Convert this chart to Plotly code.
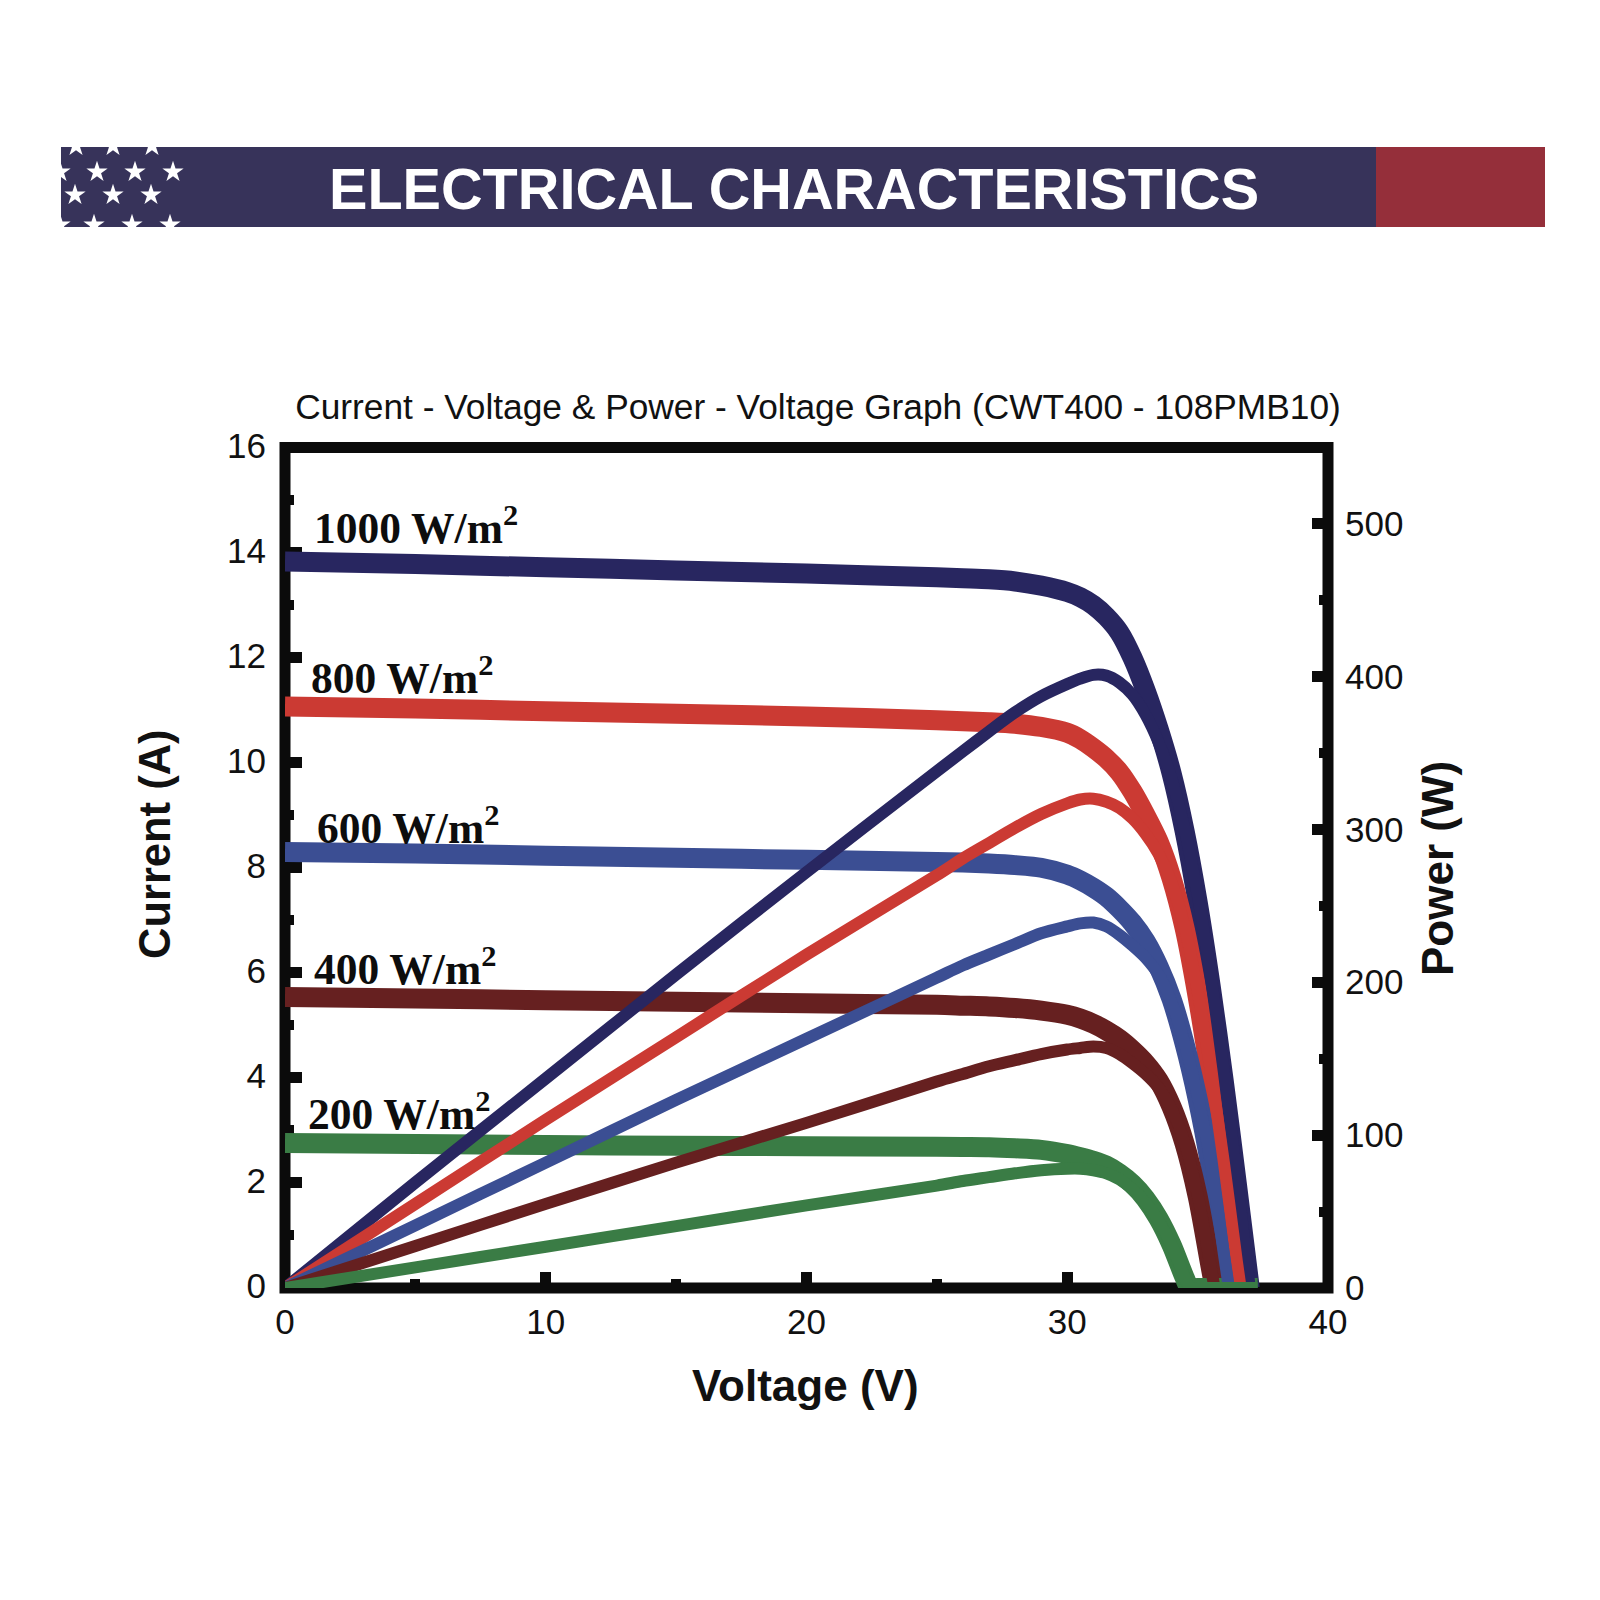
import plotly.graph_objects as go

# Shared canvas size in pixels
W = H = 1600

# Irradiance labels, one per module curve
labels = ["1000 W/m<sup>2</sup>", "800 W/m<sup>2</sup>", "600 W/m<sup>2</sup>", "400 W/m<sup>2</sup>", "200 W/m<sup>2</sup>"]
colors = ["#282660", "#CB3A33", "#3B4E93", "#662020", "#3A7C45"]

# Voltage (V), current (A) and power (W) for each irradiance level
v_1000 = [0, 5, 10, 15, 20, 25, 26, 27, 28, 29, 30, 30.5, 31, 31.5, 32, 32.5, 33, 33.5, 34, 34.5, 35, 35.5, 36, 36.5, 37]
i_1000 = [13.83, 13.78, 13.72, 13.66, 13.6, 13.53, 13.51, 13.49, 13.45, 13.37, 13.25, 13.15, 13.0, 12.78, 12.48, 12.0, 11.38, 10.65, 9.8, 8.7, 7.35, 5.75, 3.95, 2.0, 0]
p_1000 = [0, 69, 137, 205, 272, 338, 351, 364, 376.5, 387, 395, 398.5, 401, 400.5, 396, 388, 375, 357, 333, 300, 257, 204, 142, 73, 0]

v_800 = [0, 5, 10, 15, 20, 25, 26, 27, 28, 29, 30, 30.5, 31, 31.5, 32, 32.5, 33, 33.5, 34, 34.5, 35, 35.5, 36, 36.5, 36.65]
i_800 = [11.07, 11.03, 10.98, 10.93, 10.88, 10.81, 10.79, 10.77, 10.74, 10.68, 10.57, 10.45, 10.28, 10.08, 9.82, 9.45, 9.0, 8.5, 7.8, 6.85, 5.55, 4.0, 2.3, 0.5, 0]
p_800 = [0, 55, 110, 164, 218, 270, 281, 291, 301, 310, 317, 319.5, 320, 318, 314, 307, 297, 284, 265, 236, 194, 142, 83, 18, 0]

v_600 = [0, 5, 10, 15, 20, 25, 26, 27, 28, 29, 30, 30.5, 31, 31.5, 32, 32.5, 33, 33.5, 34, 34.5, 35, 35.5, 36, 36.2]
i_600 = [8.3, 8.27, 8.23, 8.19, 8.15, 8.11, 8.1, 8.08, 8.05, 8.0, 7.87, 7.76, 7.62, 7.45, 7.22, 6.95, 6.6, 6.12, 5.5, 4.65, 3.6, 2.3, 0.65, 0]
p_600 = [0, 41, 82, 123, 163, 203, 211, 218, 225, 232, 236.5, 238.5, 239, 236.5, 231, 224, 216, 205, 187, 160, 126, 82, 23, 0]

v_400 = [0, 5, 10, 15, 20, 25, 26, 27, 28, 29, 30, 30.5, 31, 31.5, 32, 32.5, 33, 33.5, 34, 34.5, 35, 35.5, 35.65]
i_400 = [5.54, 5.51, 5.48, 5.45, 5.42, 5.39, 5.375, 5.36, 5.33, 5.28, 5.2, 5.13, 5.03, 4.9, 4.74, 4.53, 4.28, 3.95, 3.45, 2.75, 1.75, 0.4, 0]
p_400 = [0, 27.5, 55, 82, 108, 135, 140, 145, 149, 153, 156, 157, 158, 157, 153, 147, 140, 131, 117, 95, 61, 14, 0]

v_200 = [0, 5, 10, 15, 20, 25, 26, 27, 28, 29, 30, 30.5, 31, 31.5, 32, 32.5, 33, 33.5, 34, 34.5, 34.7, 35, 37.3]
i_200 = [2.76, 2.74, 2.72, 2.71, 2.7, 2.69, 2.685, 2.68, 2.66, 2.63, 2.55, 2.49, 2.42, 2.33, 2.18, 1.98, 1.7, 1.32, 0.82, 0.2, 0, 0, 0]
p_200 = [0, 13.5, 27, 40.5, 54, 67, 70, 72.5, 75, 77, 78, 78, 77, 75, 71, 64.5, 56, 44, 28, 7, 0, 0, 0]

voltages = [v_1000, v_800, v_600, v_400, v_200]
currents = [i_1000, i_800, i_600, i_400, i_200]
powers = [p_1000, p_800, p_600, p_400, p_200]

# Left edge and vertical centre of each irradiance label, in pixels
label_x = [312, 309, 315, 312, 306]
label_y = [525, 675, 825, 966, 1111]

# Star field of the banner: rows of (y, x positions), in pixels
star_rows = [
    (146, [76, 113, 152]),
    (172, [60, 97, 135, 173]),
    (195, [75, 113, 151]),
    (225, [60, 94, 132, 170]),
]

# Pixel geometry of the plot frame and banner
PLOT_L, PLOT_R, PLOT_T, PLOT_B = 285, 1328, 447.5, 1288
BAND_L, BAND_R, BAND_T, BAND_B, BAND_SPLIT = 61, 1545, 147, 227, 1376
FRAME = "#0b0b0b"
TEXT = "#111111"
SANS = "Liberation Sans, Arial, sans-serif"
SERIF = "Liberation Serif, Times New Roman, serif"


def px(x):
    return x / W


def py(y):
    return 1 - y / H


fig = go.Figure()

# Thick current curves go first so the thinner power curves cross over them
for name, v, i, c in zip(labels, voltages, currents, colors):
    fig.add_trace(go.Scatter(
        x=v, y=i, mode="lines", xaxis="x", yaxis="y",
        name=f"Current {name}", showlegend=False,
        line=dict(color=c, width=20, shape="spline", smoothing=0.8),
    ))

for name, v, p, c in zip(labels, voltages, powers, colors):
    fig.add_trace(go.Scatter(
        x=v, y=p, mode="lines", xaxis="x", yaxis="y2",
        name=f"Power {name}", showlegend=False,
        line=dict(color=c, width=12, shape="spline", smoothing=0.8),
    ))

# Stars sit on their own pixel-scaled axes so the banner edges clip them
star_x = [x for _, xs in star_rows for x in xs]
star_y = [y for y, xs in star_rows for _ in xs]
fig.add_trace(go.Scatter(
    x=star_x, y=star_y, mode="markers", xaxis="x3", yaxis="y3", showlegend=False,
    marker=dict(symbol="star", size=16, color="white", line=dict(width=0)),
))

axis_common = dict(
    showgrid=False, zeroline=False, showline=False, ticks="inside", automargin=False,
    tickcolor=FRAME, tickwidth=10.5, ticklen=16.5, layer="below traces",
    tickfont=dict(family=SANS, size=35, color=TEXT), fixedrange=True,
)
minor_common = dict(ticks="inside", tickcolor=FRAME, tickwidth=10, ticklen=9, showgrid=False)

fig.update_layout(
    width=W, height=H, autosize=False, showlegend=False,
    margin=dict(l=0, r=0, t=0, b=0),
    paper_bgcolor="white", plot_bgcolor="white",
    title=dict(
        text="Current - Voltage & Power - Voltage Graph (CWT400 - 108PMB10)",
        x=818 / W, xanchor="center", y=py(407), yanchor="middle",
        font=dict(family=SANS, size=35.3, color=TEXT),
    ),
    xaxis=dict(
        domain=[px(PLOT_L), px(PLOT_R)], range=[0, 40], dtick=10, tick0=0,
        anchor="y", minor=dict(dtick=5, **minor_common), ticklabelstandoff=10,
        **axis_common,
    ),
    yaxis=dict(
        domain=[py(PLOT_B), py(PLOT_T)], range=[0, 16], dtick=2, tick0=0,
        anchor="x", minor=dict(dtick=1, **minor_common), ticklabelstandoff=18,
        ticklabelshift=-2, **axis_common,
    ),
    yaxis2=dict(
        domain=[py(PLOT_B), py(PLOT_T)], range=[0, 549.7], dtick=100, tick0=0,
        anchor="x", overlaying="y", side="right",
        minor=dict(dtick=50, **minor_common), ticklabelstandoff=16,
        **axis_common,
    ),
    xaxis3=dict(domain=[px(BAND_L), px(BAND_R)], range=[BAND_L, BAND_R], visible=False, anchor="y3", fixedrange=True, automargin=False),
    yaxis3=dict(domain=[py(BAND_B), py(BAND_T)], range=[BAND_B, BAND_T], visible=False, anchor="x3", fixedrange=True, automargin=False),
)

# Banner blocks and the heavy plot frame
fig.add_shape(type="rect", xref="paper", yref="paper", layer="below", line_width=0, fillcolor="#37335A",
              x0=px(BAND_L), x1=px(BAND_SPLIT), y0=py(BAND_B), y1=py(BAND_T))
fig.add_shape(type="rect", xref="paper", yref="paper", layer="below", line_width=0, fillcolor="#952F3A",
              x0=px(BAND_SPLIT), x1=px(BAND_R), y0=py(BAND_B), y1=py(BAND_T))
fig.add_shape(type="rect", xref="paper", yref="paper", layer="below",
              line=dict(color=FRAME, width=11), fillcolor="rgba(0,0,0,0)",
              x0=px(PLOT_L), x1=px(PLOT_R), y0=py(PLOT_B), y1=py(PLOT_T))


def text_at(text, x, y, size, family=SANS, bold=True, color=TEXT, angle=0, xanchor="center"):
    fig.add_annotation(
        text=f"<b>{text}</b>" if bold else text,
        xref="paper", yref="paper", x=px(x), y=py(y), showarrow=False,
        xanchor=xanchor, yanchor="middle", textangle=angle,
        font=dict(family=family, size=size, color=color),
    )


text_at("ELECTRICAL CHARACTERISTICS", 794, 189, 57.6, color="white")
text_at("Voltage (V)", 805, 1385, 44)
text_at("Current (A)", 155, 844, 43.5, angle=-90)
text_at("Power (W)", 1437, 869, 44, angle=-90)

for name, x, y in zip(labels, label_x, label_y):
    text_at(name, x, y, 43.5, family=SERIF, color="#0d0d0d", xanchor="left")

fig.write_html("out.html", config=dict(displayModeBar=False))
